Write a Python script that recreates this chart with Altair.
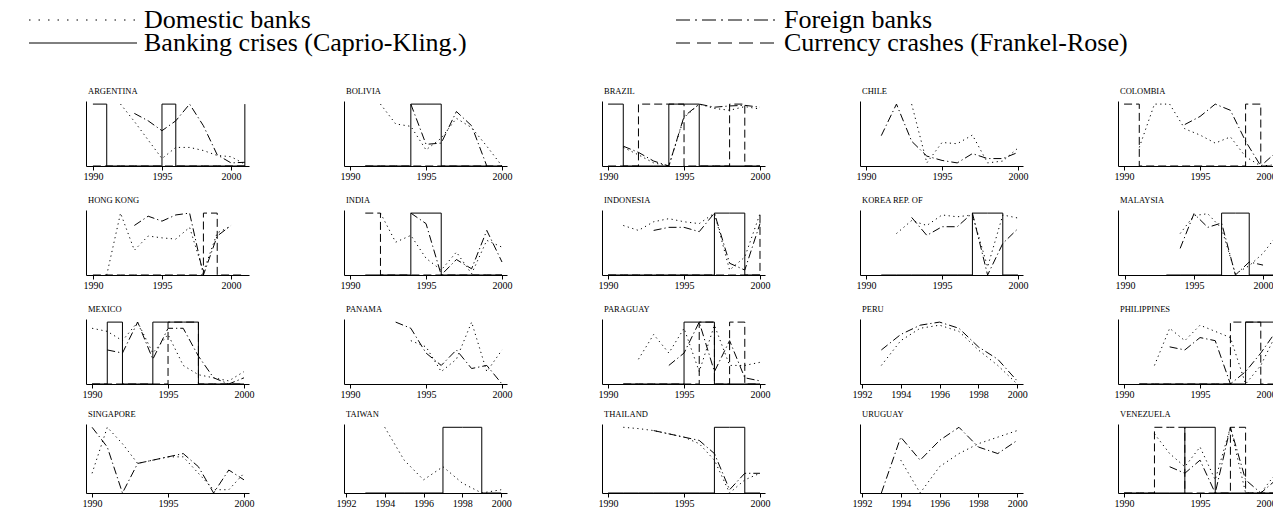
import altair as alt
import pandas as pd

COUNTRIES = ["ARGENTINA", "BOLIVIA", "BRAZIL", "CHILE", "COLOMBIA",
             "HONG KONG", "INDIA", "INDONESIA", "KOREA REP. OF", "MALAYSIA",
             "MEXICO", "PANAMA", "PARAGUAY", "PERU", "PHILIPPINES",
             "SINGAPORE", "TAIWAN", "THAILAND", "URUGUAY", "VENEZUELA"]

LEGEND_LABELS = ["Domestic banks", "Foreign banks",
                 "Banking crises (Caprio-Kling.)", "Currency crashes (Frankel-Rose)"]

TICKS_5 = [1990, 1995, 2000]
TICKS_2 = [1992, 1994, 1996, 1998, 2000]

# (first year, yearly values)  -- normalised shares
DOMESTIC = {
    "ARGENTINA": (1992, [1.0, 0.72, 0.42, 0.12, 0.3, 0.3, 0.25, 0.17, 0.15, 0.03]),
    "BOLIVIA": (1992, [1.0, 0.68, 0.64, 0.26, 0.45, 0.77, 0.62, 0.32, 0.0]),
    "BRAZIL": (1991, [0.3, 0.18, 0.05, 0.0, 0.78, 1.0, 0.93, 0.9, 0.96, 0.92]),
    "CHILE": (1993, [1.0, 0.05, 0.38, 0.36, 0.5, 0.05, 0.08, 0.29]),
    "COLOMBIA": (1991, [0.3, 1.0, 1.0, 0.6, 0.5, 0.37, 0.47, 0.15, 0.0, 0.02]),
    "HONG KONG": (1991, [0.0, 1.0, 0.4, 0.63, 0.6, 0.58, 0.77, 0.05, 0.68, 0.79]),
    "INDIA": (1992, [1.0, 0.53, 0.64, 0.27, 0.08, 0.37, 0.02, 0.56, 0.45]),
    "INDONESIA": (1991, [0.8, 0.72, 0.86, 0.91, 0.86, 0.83, 1.0, 0.08, 0.29, 0.99]),
    "KOREA REP. OF": (1992, [0.67, 0.88, 0.8, 0.97, 0.94, 0.97, 0.13, 0.97, 0.92]),
    "MALAYSIA": (1994, [0.67, 0.96, 0.99, 0.75, 0.02, 0.15, 0.35, 0.64]),
    "MEXICO": (1990, [0.9, 0.85, 0.7, 1.0, 0.5, 0.8, 0.3, 0.15, 0.1, 0.05, 0.2]),
    "PANAMA": (1994, [0.7, 0.6, 0.2, 0.4, 1.0, 0.2, 0.55]),
    "PARAGUAY": (1992, [0.4, 0.8, 0.5, 0.9, 0.2, 0.95, 0.3, 0.3, 0.35]),
    "PERU": (1993, [0.3, 0.7, 0.9, 0.95, 0.85, 0.55, 0.3, 0.0]),
    "PHILIPPINES": (1992, [0.3, 0.9, 0.7, 0.95, 0.85, 0.75, 0.0, 0.3, 0.8]),
    "SINGAPORE": (1990, [0.3, 1.0, 0.75, 0.45, 0.5, 0.55, 0.55, 0.3, 0.05, 0.05, 0.3]),
    "TAIWAN": (1994, [1.0, 0.5, 0.2, 0.4, 0.15, 0.0, 0.05]),
    "THAILAND": (1991, [1.0, 0.98, 0.95, 0.9, 0.85, 0.75, 0.5, 0.0, 0.2, 0.3]),
    "URUGUAY": (1994, [0.5, 0.0, 0.4, 0.6, 0.75, 0.85, 0.95]),
    "VENEZUELA": (1992, [0.9, 0.6, 0.4, 0.7, 0.2, 1.0, 0.0, 0.0, 0.3]),
}

FOREIGN = {
    "ARGENTINA": (1993, [0.85, 0.73, 0.57, 0.73, 1.0, 0.65, 0.18, 0.05, 0.06]),
    "BOLIVIA": (1994, [1.0, 0.35, 0.37, 0.88, 0.65, 0.0]),
    "BRAZIL": (1991, [0.32, 0.22, 0.08, 0.0, 0.8, 1.0, 0.95, 0.97, 0.98, 0.95]),
    "CHILE": (1991, [0.49, 1.0, 0.4, 0.16, 0.09, 0.05, 0.2, 0.12, 0.12, 0.22]),
    "COLOMBIA": (1994, [0.67, 0.8, 1.0, 0.9, 0.4, 0.0, 0.22]),
    "HONG KONG": (1993, [0.8, 0.95, 0.87, 0.97, 1.0, 0.0, 0.63, 0.8]),
    "INDIA": (1994, [1.0, 0.83, 0.0, 0.25, 0.1, 0.72, 0.21]),
    "INDONESIA": (1993, [0.72, 0.77, 0.77, 0.7, 1.0, 0.19, 0.08, 0.83]),
    "KOREA REP. OF": (1993, [0.93, 0.64, 0.78, 0.78, 1.0, 0.0, 0.51, 0.75]),
    "MALAYSIA": (1994, [0.43, 0.99, 0.77, 0.84, 0.0, 0.21, 0.16]),
    "MEXICO": (1991, [0.55, 0.5, 1.0, 0.4, 0.9, 0.9, 0.45, 0.1, 0.0, 0.1]),
    "PANAMA": (1993, [1.0, 0.9, 0.5, 0.3, 0.55, 0.25, 0.3, 0.0]),
    "PARAGUAY": (1994, [0.3, 0.5, 1.0, 0.2, 0.7, 0.1, 0.05]),
    "PERU": (1993, [0.55, 0.8, 0.95, 1.0, 0.9, 0.6, 0.4, 0.05]),
    "PHILIPPINES": (1993, [0.6, 0.55, 0.75, 0.7, 0.0, 0.2, 0.5, 0.85]),
    "SINGAPORE": (1990, [1.0, 0.7, 0.0, 0.45, 0.5, 0.55, 0.6, 0.4, 0.0, 0.35, 0.2]),
    "THAILAND": (1993, [0.95, 0.9, 0.85, 0.8, 0.6, 0.05, 0.3, 0.3]),
    "URUGUAY": (1993, [0.0, 0.85, 0.5, 0.8, 1.0, 0.7, 0.6, 0.8]),
    "VENEZUELA": (1993, [0.4, 0.3, 0.5, 0.0, 1.0, 0.2, 0.0, 0.2]),
}

BANKING = {
    "ARGENTINA": (1990, [1, 0, 0, 0, 0, 1, 0, 0, 0, 0, 0, 1]),
    "BOLIVIA": (1991, [0, 0, 0, 1, 1, 0, 0, 0, 0, 0]),
    "BRAZIL": (1990, [1, 0, 0, 0, 1, 1, 0, 0, 0, 0, 0]),
    "INDIA": (1991, [0, 0, 0, 1, 1, 0, 0, 0, 0, 0]),
    "INDONESIA": (1990, [0, 0, 0, 0, 0, 0, 0, 1, 1, 0, 0]),
    "KOREA REP. OF": (1991, [0, 0, 0, 0, 0, 0, 1, 1, 0, 0]),
    "MALAYSIA": (1993, [0, 0, 0, 0, 1, 1, 0, 0, 0]),
    "MEXICO": (1990, [0, 1, 0, 0, 1, 1, 1, 0, 0, 0, 0]),
    "PARAGUAY": (1991, [0, 0, 0, 0, 1, 1, 0, 0, 0, 0]),
    "PHILIPPINES": (1991, [0, 0, 0, 0, 0, 0, 0, 1, 1, 0]),
    "TAIWAN": (1993, [0, 0, 0, 0, 1, 1, 0, 0]),
    "THAILAND": (1990, [0, 0, 0, 0, 0, 0, 0, 1, 1, 0, 0]),
    "VENEZUELA": (1990, [0, 0, 0, 0, 1, 1, 0, 0, 0, 0, 0]),
}

CURRENCY = {
    "ARGENTINA": (1990, [0, 0, 0, 0, 0, 0, 0, 0, 0, 0, 0, 0]),
    "BOLIVIA": (1991, [0, 0, 0, 0, 0, 0, 0, 0, 0, 0]),
    "BRAZIL": (1990, [0, 0, 1, 1, 1, 0, 0, 0, 1, 0, 0]),
    "COLOMBIA": (1990, [1, 0, 0, 0, 0, 0, 0, 0, 1, 0, 0]),
    "HONG KONG": (1990, [0, 0, 0, 0, 0, 0, 0, 0, 1, 0, 0, 0]),
    "INDIA": (1991, [1, 0, 0, 0, 0, 0, 0, 0, 0, 0]),
    "INDONESIA": (1990, [0, 0, 0, 0, 0, 0, 0, 0, 0, 0, 1]),
    "MEXICO": (1990, [0, 0, 0, 0, 0, 1, 1, 0, 0, 0, 0]),
    "PARAGUAY": (1991, [0, 0, 0, 0, 0, 1, 0, 1, 0, 0]),
    "PHILIPPINES": (1991, [0, 0, 0, 0, 0, 0, 1, 1, 0, 0]),
    "VENEZUELA": (1990, [0, 0, 1, 1, 0, 0, 0, 1, 0, 0, 0]),
}

SHORT_SPAN = ["PERU", "TAIWAN", "URUGUAY"]

SERIES = [("banking", BANKING), ("currency", CURRENCY),
          ("domestic", DOMESTIC), ("foreign", FOREIGN)]

recs = []
for sname, table in SERIES:
    for country, (y0, vals) in table.items():
        for i, v in enumerate(vals):
            recs.append({"country": country, "series": sname, "year": y0 + i, "value": v})
df = pd.DataFrame(recs)

STYLE = {
    "banking": dict(interpolate="step-after"),
    "currency": dict(interpolate="step-after", strokeDash=[8, 4]),
    "domestic": dict(strokeDash=[1.2, 3.5]),
    "foreign": dict(strokeDash=[8, 3, 1.2, 3]),
}
LEG_DASH = [[1.5, 8], [14, 5, 2, 5], None, [14, 7]]

FONT = "Liberation Serif"
W, H = 163, 69


def panel(idx, country):
    d = df[df.country == country]
    last = int(d.year.max())
    last_col = (idx % 5 == 4)
    top = 0 if idx >= 15 else 4          # bottom row is a little taller
    if country in SHORT_SPAN:
        dom, ticks = [1991.9, 2000.3], TICKS_2
    elif last >= 2001:
        dom, ticks = [1989.5, 2001.3], TICKS_5
    else:
        dom, ticks = [1989.6, 2000.33], TICKS_5
    xs = alt.Scale(domain=dom, nice=False, zero=False)
    ys = alt.Scale(domain=[0, 1.05], nice=False, zero=False, range=[H, top])
    xax = alt.Axis(values=ticks, format="d", title=None, grid=False, labelFont=FONT,
                   labelFontSize=10, labelColor="black", tickColor="black",
                   domainColor="black", tickSize=4, labelPadding=1, labelOverlap=False,
                   labelFlush=5.5 if last_col else False)
    yax = alt.Axis(labels=False, ticks=False, title=None, grid=False, domainColor="black")
    layers = []
    for sname, _ in SERIES:
        ds = d[d.series == sname]
        if len(ds) == 0:
            continue
        layers.append(
            alt.Chart(ds).mark_line(color="black", strokeWidth=1, clip=True, **STYLE[sname])
            .encode(x=alt.X("year:Q", scale=xs, axis=xax),
                    y=alt.Y("value:Q", scale=ys, axis=yax))
        )
    layers.append(
        alt.Chart(pd.DataFrame({"name": [country]})).mark_text(
            align="left", baseline="alphabetic", font=FONT, fontSize=8.5, color="black")
        .encode(x=alt.value(2), y=alt.value(top - 7.5), text="name:N"))
    if idx == 0:
        pos = [(-57, 51, 58, -77), (590, 693, 698, -77), (-57, 51, 58, -54), (590, 693, 698, -54)]
        for lab, dash, (xa, xb, xt, yy) in zip(LEGEND_LABELS, LEG_DASH, pos):
            ld = pd.DataFrame({"label": [lab]})
            kw = dict(color="black", strokeWidth=1)
            if dash:
                kw["strokeDash"] = dash
            layers.append(alt.Chart(ld).mark_rule(**kw).encode(
                x=alt.value(xa), x2=alt.value(xb), y=alt.value(yy)))
            layers.append(alt.Chart(ld).mark_text(align="left", baseline="middle", font=FONT,
                                                  fontSize=26, color="black").encode(
                x=alt.value(xt), y=alt.value(yy), text="label:N"))
    return alt.layer(*layers).properties(width=W, height=H)


chart = alt.concat(*[panel(i, c) for i, c in enumerate(COUNTRIES)], columns=5,
                   spacing={"row": 40, "column": 95}, bounds="flush").properties(
    padding={"left": 20, "top": -1, "right": -8, "bottom": 0}
).configure_view(stroke=None)

chart.save("out.html", embed_options={"renderer": "svg", "actions": False})
